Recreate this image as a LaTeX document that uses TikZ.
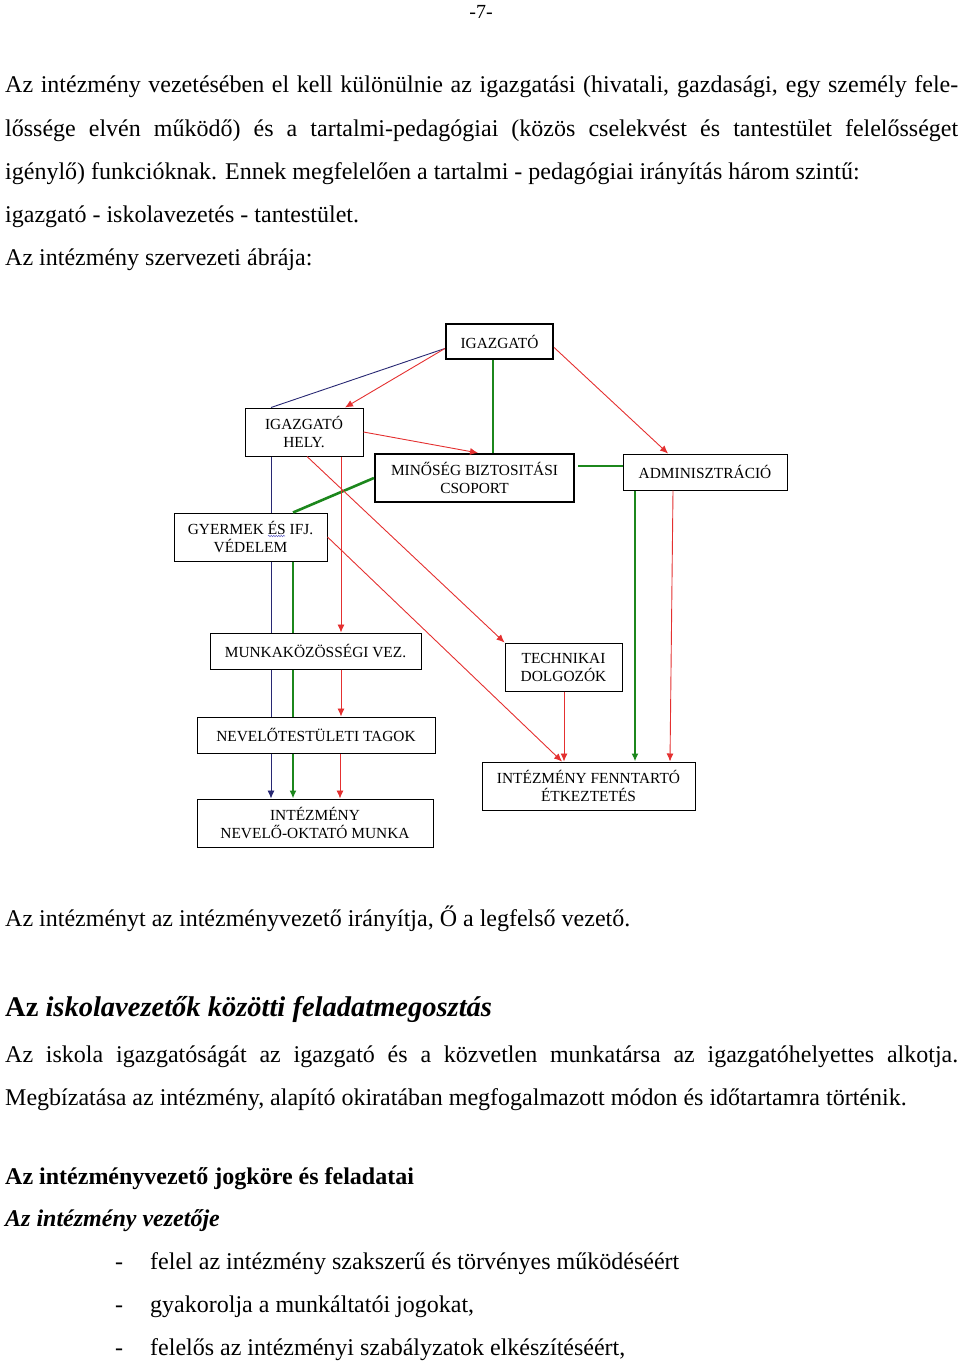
\documentclass[tikz,border=0pt]{standalone}
\usepackage{fontspec}
\setmainfont{Liberation Serif}
\usetikzlibrary{arrows.meta,decorations.pathmorphing}

\definecolor{linered}{RGB}{228,48,48}
\definecolor{linenavy}{RGB}{40,40,115}
\definecolor{linegreen}{RGB}{28,135,28}

\tikzset{
  box/.style={draw, line width=1pt, inner sep=0pt, align=center,
    font=\fontsize{15.4}{18}\selectfont},
  bigbox/.style={box, line width=2.2pt},
  redline/.style={draw=linered, line width=0.9pt},
  redarrow/.style={redline, -{Latex[length=8pt,width=7pt]}},
  navyline/.style={draw=linenavy, line width=0.9pt},
  greenline/.style={draw=linegreen, line width=2.6pt},
  greenarrow/.style={greenline, -{Latex[length=8pt,width=7pt]}},
  body/.style={anchor=base west, inner sep=0pt, font=\fontsize{24}{28}\selectfont},
}

\begin{document}
\begin{tikzpicture}[x=1pt, y=-1pt]
  \useasboundingbox (0,0) rectangle (960,1362);

  % page number
  \node[inner sep=0pt, font=\fontsize{20}{24}\selectfont] (pg) at (481,12) {-7-};

  % text above
  \def\tw{953pt}
  \node[body] (t1) at (5,93) {\makebox[\tw][s]{Az intézmény vezetésében el kell különülnie az igazgatási (hivatali, gazdasági, egy személy fele-}};
  \node[body] (t2) at (5,136) {\makebox[\tw][s]{lőssége elvén működő) és a tartalmi-pedagógiai (közös cselekvést és tantestület felelősséget}};
  \node[body] (t3) at (5,179) {igénylő) funkcióknak. Ennek megfelelően a tartalmi - pedagógiai irányítás három szintű:};
  \node[body] (t4) at (5,222) {igazgató - iskolavezetés - tantestület.};
  \node[body] (t5) at (5,265) {Az intézmény szervezeti ábrája:};

  % boxes
  \node[bigbox, minimum width=107pt, minimum height=35pt] (igaz) at (499.5,341.5) {IGAZGATÓ};
  \node[box, minimum width=118pt, minimum height=48pt] (hely) at (304,432) {IGAZGATÓ\\HELY.};
  \node[bigbox, minimum width=199pt, minimum height=48pt] (minoseg) at (474.5,478) {MINŐSÉG BIZTOSITÁSI\\CSOPORT};
  \node[box, minimum width=164pt, minimum height=36pt] (admin) at (705,472) {ADMINISZTRÁCIÓ};
  \node[box, minimum width=153pt, minimum height=48pt] (gyer) at (250.5,537) {GYERMEK ÉS IFJ.\\VÉDELEM};
  \node[box, minimum width=211pt, minimum height=36pt] (mkv) at (315.5,651) {MUNKAKÖZÖSSÉGI VEZ.};
  \node[box, minimum width=238pt, minimum height=36pt] (ntt) at (316,735) {NEVELŐTESTÜLETI TAGOK};
  \node[box, minimum width=236pt, minimum height=48pt] (nom) at (315,823) {INTÉZMÉNY\\NEVELŐ-OKTATÓ MUNKA};
  \node[box, minimum width=117pt, minimum height=48pt] (tech) at (563.5,667) {TECHNIKAI\\DOLGOZÓK};
  \node[box, minimum width=213pt, minimum height=48pt] (fennt) at (588.5,786) {INTÉZMÉNY FENNTARTÓ\\ÉTKEZTETÉS};

  % spelling mark
  \draw[draw=black!35!blue!60, line width=0.5pt,
    decorate, decoration={snake, amplitude=0.8pt, segment length=2.5pt}] (268,536) -- (285,536);

  \def\xn{271}
  \def\xg{293}
  \def\xr{341}

  % navy lines
  \draw[navyline] ([yshift=-7pt]igaz.west) -- (\xn,0 |- hely.north);
  \draw[navyline] (\xn,0 |- hely.south) -- (\xn,0 |- gyer.north)
    (\xn,0 |- gyer.south) -- (\xn,0 |- mkv.north)
    (\xn,0 |- mkv.south) -- (\xn,0 |- ntt.north);
  \draw[navyline, -{Latex[length=8pt,width=7pt]}] (\xn,0 |- ntt.south) -- (\xn,0 |- nom.north);

  % green lines
  \draw[greenline] (493,0 |- igaz.south) -- (493,0 |- minoseg.north);
  \draw[greenline] ([yshift=6pt]admin.west -| minoseg.east) ++(3,0) -- ([yshift=6pt]admin.west);
  \draw[greenline] (minoseg.west) -- (\xg,0 |- gyer.north);
  \draw[greenline] (\xg,0 |- gyer.south) -- (\xg,0 |- mkv.north)
    (\xg,0 |- mkv.south) -- (\xg,0 |- ntt.north);
  \draw[greenarrow] (\xg,0 |- ntt.south) -- (\xg,0 |- nom.north);
  \draw[greenarrow] (635,0 |- admin.south) -- (635,0 |- fennt.north);

  % red lines
  \draw[redarrow] ([yshift=-7pt]igaz.west) -- (345,0 |- hely.north);
  \draw[redarrow] ([yshift=-6pt]igaz.east) -- (668,0 |- admin.north);
  \draw[redarrow] (hely.east) -- (478,0 |- minoseg.north);
  \draw[redarrow] (\xr,0 |- hely.south) -- (\xr,0 |- mkv.north);
  \draw[redarrow] (\xr,0 |- mkv.south) -- (\xr,0 |- ntt.north);
  \draw[redarrow] (340,0 |- ntt.south) -- (340,0 |- nom.north);
  \draw[redarrow] (307,0 |- hely.south) -- (tech.north west);
  \draw[redarrow] (gyer.east) -- (562,0 |- fennt.north);
  \draw[redarrow] (564,0 |- tech.south) -- (564,0 |- fennt.north);
  \draw[redarrow] (673,0 |- admin.south) -- (670,0 |- fennt.north);

  % text below
  \node[body] (t6) at (5,926) {Az intézményt az intézményvezető irányítja, Ő a legfelső vezető.};
  \node[body, font=\fontsize{28.5}{32}\selectfont\bfseries] (h1) at (5,1016) {Az \textit{iskolavezetők közötti feladatmegosztás}};
  \node[body] (t7) at (5,1062) {\makebox[\tw][s]{Az iskola igazgatóságát az igazgató és a közvetlen munkatársa az igazgatóhelyettes alkotja.}};
  \node[body] (t8) at (5,1105) {Megbízatása az intézmény, alapító okiratában megfogalmazott módon és időtartamra történik.};
  \node[body, font=\fontsize{24}{28}\selectfont\bfseries] (h2) at (5,1184) {Az intézményvezető jogköre és feladatai};
  \node[body, font=\fontsize{24}{28}\selectfont\bfseries\itshape] (h3) at (5,1226) {Az intézmény vezetője};

  \foreach \y/\txt in {1269/{felel az intézmény szakszerű és törvényes működéséért},
                       1312/{gyakorolja a munkáltatói jogokat,},
                       1355/{felelős az intézményi szabályzatok elkészítéséért,}}
  {
  \node[body] at (115,\y) {-};
  \node[body] at (150,\y) {\txt};
  }
\end{tikzpicture}
\end{document}
